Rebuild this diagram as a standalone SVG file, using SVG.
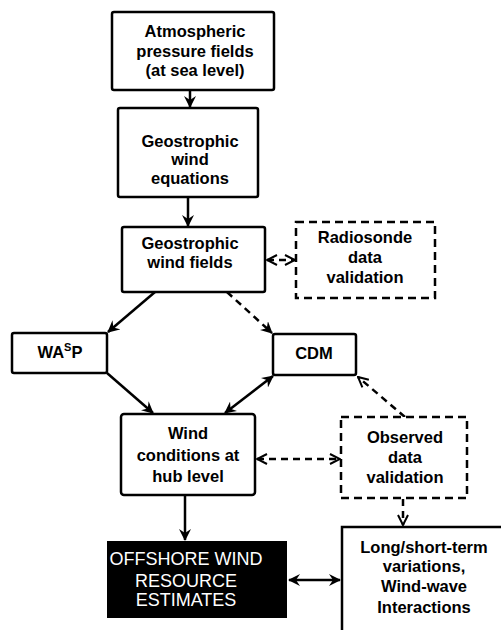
<svg xmlns="http://www.w3.org/2000/svg" width="501" height="630" viewBox="0 0 501 630">
<style>
.box{fill:#fff;stroke:#000;stroke-width:2.5}
.dbox{fill:#fff;stroke:#000;stroke-width:2.5;stroke-dasharray:8 5}
.t{font-family:"Liberation Sans",Arial,sans-serif;font-weight:bold;font-size:16.5px;fill:#000;text-anchor:middle}
.w{font-family:"Liberation Sans",Arial,sans-serif;font-size:18px;fill:#fff;text-anchor:middle}
.c{fill:none;stroke:#000;stroke-width:2.5}
.dc{fill:none;stroke:#000;stroke-width:2.5;stroke-dasharray:7 5}
</style>
<defs>
<marker id="ah" viewBox="0 0 12 12" refX="11" refY="6" markerWidth="12" markerHeight="12" markerUnits="userSpaceOnUse" orient="auto-start-reverse">
<path d="M0,0 L12,6 L0,12 L4,6 Z" fill="#000"/>
</marker>
<marker id="oh" viewBox="0 0 12 12" refX="11" refY="6" markerWidth="12" markerHeight="12" markerUnits="userSpaceOnUse" orient="auto-start-reverse">
<path d="M1,1 L11,6 L1,11" fill="none" stroke="#000" stroke-width="2"/>
</marker>
</defs>
<rect width="501" height="630" fill="#fff"/>
<g id="connectors">
<line class="c" x1="190" y1="90" x2="190" y2="107" marker-end="url(#ah)"/>
<line class="c" x1="188" y1="197" x2="188" y2="226" marker-end="url(#ah)"/>
<line class="dc" x1="267" y1="260" x2="295" y2="260" marker-start="url(#oh)" marker-end="url(#oh)"/>
<line class="c" x1="155" y1="292" x2="108" y2="332" marker-end="url(#ah)"/>
<line class="dc" x1="227" y1="292" x2="272" y2="333" marker-end="url(#ah)"/>
<line class="c" x1="107" y1="373" x2="153" y2="413" marker-end="url(#ah)"/>
<line class="c" x1="225" y1="413" x2="273" y2="376" marker-start="url(#ah)" marker-end="url(#ah)"/>
<line class="dc" x1="405" y1="417" x2="358" y2="377" marker-end="url(#oh)"/>
<line class="dc" x1="257" y1="459" x2="340" y2="459" marker-start="url(#oh)" marker-end="url(#oh)"/>
<line class="c" x1="185" y1="495" x2="185" y2="540" marker-end="url(#ah)"/>
<line class="dc" x1="403" y1="499" x2="403" y2="525" marker-end="url(#oh)"/>
<line class="c" x1="289" y1="580" x2="340" y2="580" marker-start="url(#ah)" marker-end="url(#ah)"/>
</g>
<g id="atm">
<rect class="box" x="112" y="12" width="162" height="78" rx="2"/>
<text class="t" x="195" y="37">Atmospheric</text>
<text class="t" x="195" y="57">pressure fields</text>
<text class="t" x="195" y="76">(at sea level)</text>
</g>
<g id="geq">
<rect class="box" x="118" y="108" width="140" height="89" rx="2"/>
<text class="t" x="190" y="147">Geostrophic</text>
<text class="t" x="190" y="165">wind</text>
<text class="t" x="190" y="184">equations</text>
</g>
<g id="gwf">
<rect class="box" x="122" y="227" width="143" height="65" rx="2"/>
<text class="t" x="190" y="249">Geostrophic</text>
<text class="t" x="190" y="268">wind fields</text>
</g>
<g id="radio">
<rect class="dbox" x="296" y="222" width="139" height="76"/>
<text class="t" x="365" y="243">Radiosonde</text>
<text class="t" x="365" y="263">data</text>
<text class="t" x="365" y="283">validation</text>
</g>
<g id="wasp">
<rect class="box" x="12" y="333" width="95" height="40" rx="2"/>
<text class="t" x="60" y="358">WA<tspan font-size="11" dy="-7">S</tspan><tspan dy="7">P</tspan></text>
</g>
<g id="cdm">
<rect class="box" x="273" y="334" width="83" height="41" rx="2"/>
<text class="t" x="314" y="359">CDM</text>
</g>
<g id="wind">
<rect class="box" x="121" y="414" width="134" height="81" rx="3"/>
<text class="t" x="188" y="439">Wind</text>
<text class="t" x="188" y="461">conditions at</text>
<text class="t" x="188" y="482">hub level</text>
</g>
<g id="obs">
<rect class="dbox" x="341" y="417" width="126" height="81"/>
<text class="t" x="405" y="443">Observed</text>
<text class="t" x="405" y="463">data</text>
<text class="t" x="405" y="483">validation</text>
</g>
<g id="offshore">
<rect x="107" y="541" width="180" height="77" fill="#000"/>
<text class="w" x="186" y="565">OFFSHORE WIND</text>
<text class="w" x="186" y="587">RESOURCE</text>
<text class="w" x="186" y="606">ESTIMATES</text>
</g>
<g id="long">
<rect class="box" x="342" y="527" width="170" height="120"/>
<text class="t" x="424" y="553">Long/short-term</text>
<text class="t" x="424" y="572">variations,</text>
<text class="t" x="424" y="592">Wind-wave</text>
<text class="t" x="424" y="613">Interactions</text>
</g>
</svg>
